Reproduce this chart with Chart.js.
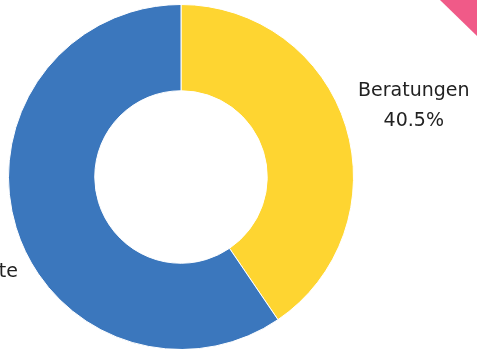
<!DOCTYPE html>
<html>
<head>
<meta charset="utf-8">
<script src="https://cdn.jsdelivr.net/npm/chart.js@4"></script>
<style>
  html, body { margin: 0; padding: 0; background: #fff; overflow: hidden; }
  #wrap { position: relative; width: 477px; height: 351px; }
  #corner {
    position: absolute; right: 0; top: 0; width: 37px; height: 36px;
    background: #F05A88; clip-path: polygon(0 0, 100% 0, 100% 100%);
  }
</style>
</head>
<body>
<div id="wrap">
  <canvas id="pieChart" width="477" height="351"></canvas>
  <div id="corner"></div>
</div>
<script>
// chart data
const categories = ['Beratungen', 'Kundenprojekte'];
const shares = [40.5, 59.5];
const sliceColors = ['#FED531', '#3B77BD'];

// small nudges for the outside labels (px)
const labelNudge = [[1, 0], [-6, 39]];

const outsideLabels = {
  id: 'outsideLabels',
  afterDatasetsDraw(chart) {
    const ctx = chart.ctx;
    const arcs = chart.getDatasetMeta(0).data;
    ctx.save();
    ctx.font = '19px "DejaVu Sans", sans-serif';
    ctx.fillStyle = '#222';
    ctx.textAlign = 'center';
    ctx.textBaseline = 'middle';
    arcs.forEach((arc, i) => {
      const p = arc.getProps(['x', 'y', 'startAngle', 'endAngle', 'outerRadius'], true);
      const mid = (p.startAngle + p.endAngle) / 2;
      const r = p.outerRadius + 70;
      const x = p.x + Math.cos(mid) * r + labelNudge[i][0];
      const y = p.y + Math.sin(mid) * r + labelNudge[i][1];
      ctx.fillText(categories[i], x, y - 15);
      ctx.fillText(shares[i].toFixed(1) + '%', x, y + 15);
    });
    ctx.restore();
  }
};

new Chart(document.getElementById('pieChart'), {
  type: 'doughnut',
  data: {
    labels: categories,
    datasets: [{
      data: shares,
      backgroundColor: sliceColors,
      borderColor: '#fff',
      borderWidth: 1
    }]
  },
  options: {
    responsive: false,
    animation: false,
    cutout: '50%',
    layout: { padding: { left: 8, right: 123, top: 4, bottom: 1 } },
    plugins: {
      legend: { display: false },
      tooltip: { enabled: false }
    }
  },
  plugins: [outsideLabels]
});
</script>
</body>
</html>
